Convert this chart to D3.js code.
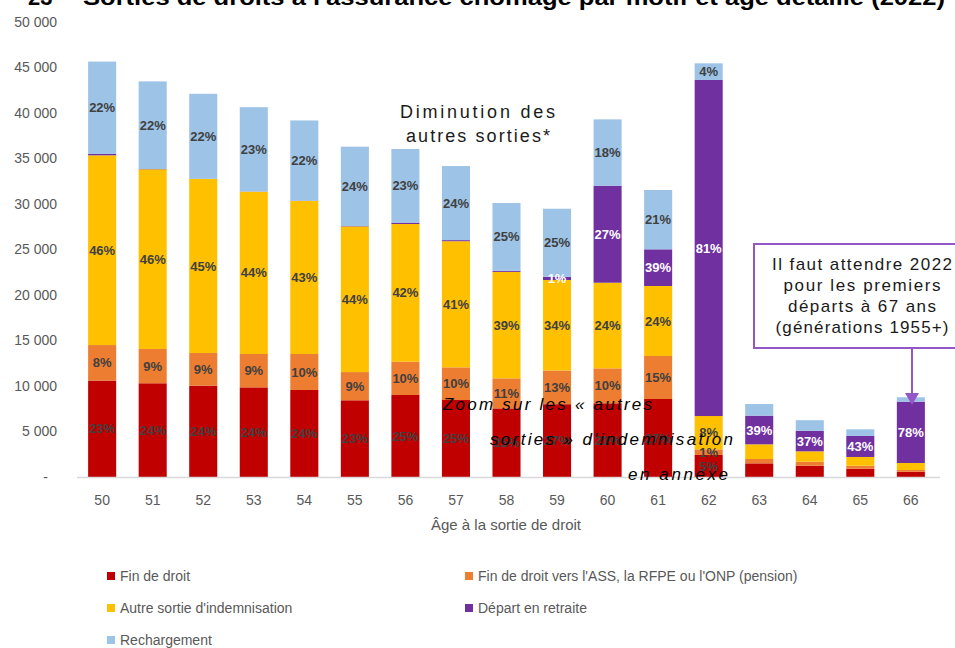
<!DOCTYPE html>
<html>
<head>
<meta charset="utf-8">
<script src="https://cdn.jsdelivr.net/npm/d3@7"></script>
<style>
  body { margin: 0; background: #fff; }
  svg { display: block; }
</style>
</head>
<body>
<div id="chart"></div>
<script>
// Sorties de droits par motif et age

// Donnees
var ages = ["50", "51", "52", "53", "54", "55", "56", "57", "58", "59", "60", "61", "62", "63", "64", "65", "66"];

var finDroit = [10600, 10300, 10040, 9850, 9560, 8430, 9010, 8460, 7540, 8000, 8100, 8570, 2420, 1500, 1240, 910, 580];
var finDroitASS = [3900, 3770, 3590, 3670, 3960, 3100, 3660, 3590, 3300, 3700, 3840, 4730, 620, 480, 440, 330, 190];
var autreSortie = [20850, 19745, 19120, 17830, 16810, 16010, 15130, 13860, 11700, 9950, 9410, 7690, 3660, 1610, 1140, 960, 770];
var retraite = [150, 30, 20, 20, 30, 40, 150, 120, 120, 350, 10660, 4030, 36930, 3150, 2250, 2310, 6740];
var rechargement = [10150, 9630, 9340, 9270, 8820, 8720, 8100, 8140, 7450, 7480, 7290, 6520, 1830, 1280, 1170, 730, 480];

// etiquettes affichees dans les barres
var lblFinDroit = ["23%", "24%", "24%", "24%", "24%", "23%", "25%", "25%", "25%", "27%", "21%", "27%", "5%", "", "", "", ""];
var lblFinDroitASS = ["8%", "9%", "9%", "9%", "10%", "9%", "10%", "10%", "11%", "13%", "10%", "15%", "1%", "", "", "", ""];
var lblAutreSortie = ["46%", "46%", "45%", "44%", "43%", "44%", "42%", "41%", "39%", "34%", "24%", "24%", "8%", "", "", "", ""];
var lblRetraite = ["", "", "", "", "", "", "", "", "", "1%", "27%", "39%", "81%", "39%", "37%", "43%", "78%"];
var lblRechargement = ["22%", "22%", "22%", "23%", "22%", "24%", "23%", "24%", "25%", "25%", "18%", "21%", "4%", "", "", "", ""];

var yTicks = [0, 5000, 10000, 15000, 20000, 25000, 30000, 35000, 40000, 45000, 50000];

var seriesNames = [
  "Fin de droit",
  "Fin de droit vers l'ASS, la RFPE ou l'ONP (pension)",
  "Autre sortie d'indemnisation",
  "Départ en retraite",
  "Rechargement"
];
var seriesKeys = ["finDroit", "finDroitASS", "autreSortie", "retraite", "rechargement"];
var seriesColors = ["#c00000", "#ed7d31", "#ffc000", "#7030a0", "#9dc3e6"];
var seriesValues = [finDroit, finDroitASS, autreSortie, retraite, rechargement];
var seriesLabels = [lblFinDroit, lblFinDroitASS, lblAutreSortie, lblRetraite, lblRechargement];

// Taille
var width = 955;
var height = 648;

var svg = d3
  .select("#chart")
  .append("svg")
  .attr("width", width)
  .attr("height", height);

// table pour le stack
var rows = ages.map(function(a, i) {
  var r = { age: a };
  seriesKeys.forEach(function(k, j) {
    r[k] = seriesValues[j][i];
  });
  return r;
});

var stack = d3.stack().keys(seriesKeys);
var layers = stack(rows);

// Echelles
var xScale = d3
  .scaleBand()
  .domain(ages)
  .range([77, 936])
  .paddingInner(0.445)
  .paddingOuter(0.22);

var yScale = d3
  .scaleLinear()
  .domain([0, 50000])
  .range([477, 22]);

// Titre (coupe en haut)
svg.append("text")
  .attr("x", 28)
  .attr("y", 5)
  .attr("font-family", "Liberation Sans, Arial, sans-serif")
  .attr("font-weight", "bold")
  .attr("font-size", 22)
  .attr("fill", "#000")
  .text("23");

svg.append("text")
  .attr("x", 83)
  .attr("y", 5)
  .attr("font-family", "Liberation Sans, Arial, sans-serif")
  .attr("font-weight", "bold")
  .attr("font-size", 22)
  .attr("fill", "#000")
  .attr("textLength", 862)
  .attr("lengthAdjust", "spacingAndGlyphs")
  .text("Sorties de droits à l'assurance chômage par motif et âge détaillé (2022)");

// Axe Y
var yAxis = d3.axisLeft(yScale)
  .tickValues(yTicks)
  .tickSize(0)
  .tickPadding(0)
  .tickFormat(function(d) {
    if (d === 0) return "-";
    return d3.format(",")(d).replace(",", " ");
  });

var gy = svg.append("g")
  .attr("class", "yAxis")
  .attr("transform", "translate(57,0)")
  .call(yAxis);
gy.select(".domain").remove();
gy.selectAll("text")
  .attr("font-family", "Liberation Sans, Arial, sans-serif")
  .attr("font-size", 14)
  .attr("fill", "#595959")
  .attr("dx", function(d) { return d === 0 ? -9 : 0; });

// Barres
var gLayers = svg.append("g")
  .selectAll("g")
  .data(layers)
  .enter()
  .append("g")
  .attr("fill", function(d, i) { return seriesColors[i]; });

gLayers.selectAll("rect")
  .data(function(d) { return d; })
  .enter()
  .append("rect")
  .attr("x", function(d) { return xScale(d.data.age); })
  .attr("width", xScale.bandwidth())
  .attr("y", function(d) { return yScale(d[1]); })
  .attr("height", function(d) { return yScale(d[0]) - yScale(d[1]); });

// Axe X
var xAxis = d3.axisBottom(xScale).tickSize(0).tickPadding(18);
var gx = svg.append("g")
  .attr("class", "xAxis")
  .attr("transform", "translate(0,477)")
  .call(xAxis);
gx.select(".domain")
  .attr("d", "M77,0.5H940")
  .attr("stroke", "#d9d9d9")
  .attr("stroke-width", 1.5);
gx.selectAll("text")
  .attr("font-family", "Liberation Sans, Arial, sans-serif")
  .attr("font-size", 14)
  .attr("fill", "#595959");

// Etiquettes des barres
layers.forEach(function(layer, j) {
  svg.append("g")
    .selectAll("text")
    .data(layer)
    .enter()
    .append("text")
    .attr("x", function(d) { return xScale(d.data.age) + xScale.bandwidth() / 2; })
    .attr("y", function(d) { return (yScale(d[0]) + yScale(d[1])) / 2; })
    .attr("dy", "0.35em")
    .attr("text-anchor", "middle")
    .attr("font-family", "Liberation Sans Narrow, Arial Narrow, sans-serif")
    .attr("font-weight", "bold")
    .attr("font-size", 13)
    .attr("fill", j === 3 ? "#ffffff" : "#404040")
    .text(function(d, i) { return seriesLabels[j][i]; });
});

// Titre axe X
svg.append("text")
  .attr("x", 506)
  .attr("y", 530)
  .attr("text-anchor", "middle")
  .attr("font-family", "Liberation Sans, Arial, sans-serif")
  .attr("font-size", 15)
  .attr("fill", "#595959")
  .text("Âge à la sortie de droit");

// Annotation "Diminution"
var annFont = "Liberation Sans, Arial, sans-serif";
svg.append("text")
  .attr("x", 400).attr("y", 118)
  .attr("font-family", annFont).attr("font-size", 18).attr("fill", "#1a1a1a")
  .attr("textLength", 155).attr("lengthAdjust", "spacing")
  .text("Diminution des");
svg.append("text")
  .attr("x", 406).attr("y", 142)
  .attr("font-family", annFont).attr("font-size", 18).attr("fill", "#1a1a1a")
  .attr("textLength", 144).attr("lengthAdjust", "spacing")
  .text("autres sorties*");

// Annotation "Zoom" en italique
var zoomLines = [
  { t: "Zoom sur les « autres", x: 443, y: 410, w: 209 },
  { t: "sorties » d'indemnisation", x: 490, y: 445, w: 243 },
  { t: "en annexe", x: 628, y: 480, w: 100 }
];
svg.append("g")
  .selectAll("text")
  .data(zoomLines)
  .enter()
  .append("text")
  .attr("x", function(d) { return d.x; })
  .attr("y", function(d) { return d.y; })
  .attr("textLength", function(d) { return d.w; })
  .attr("lengthAdjust", "spacing")
  .attr("font-family", annFont)
  .attr("font-style", "italic")
  .attr("font-size", 17)
  .attr("fill", "#000")
  .text(function(d) { return d.t; });

// Encadre 67 ans
var purpleLine = "#9457c8";
svg.append("rect")
  .attr("x", 754).attr("y", 244)
  .attr("width", 215).attr("height", 104)
  .attr("fill", "#fff")
  .attr("stroke", purpleLine)
  .attr("stroke-width", 2);

var boxLines = [
  { t: "Il faut attendre 2022", y: 270, w: 180 },
  { t: "pour les premiers", y: 291, w: 157 },
  { t: "départs à 67 ans", y: 312, w: 148 },
  { t: "(générations 1955+)", y: 333, w: 173 }
];
svg.append("g")
  .selectAll("text")
  .data(boxLines)
  .enter()
  .append("text")
  .attr("x", 862)
  .attr("y", function(d) { return d.y; })
  .attr("text-anchor", "middle")
  .attr("textLength", function(d) { return d.w; })
  .attr("lengthAdjust", "spacing")
  .attr("font-family", annFont)
  .attr("font-size", 17)
  .attr("fill", "#1a1a1a")
  .text(function(d) { return d.t; });

// fleche
svg.append("line")
  .attr("x1", 912).attr("y1", 349)
  .attr("x2", 912).attr("y2", 395)
  .attr("stroke", purpleLine)
  .attr("stroke-width", 2);
svg.append("path")
  .attr("d", "M905,393L919,393L912,405Z")
  .attr("fill", purpleLine);

// Legende
var legendPos = [
  { x: 107, y: 576 },
  { x: 465, y: 576 },
  { x: 107, y: 608 },
  { x: 465, y: 608 },
  { x: 107, y: 640 }
];
var legend = svg.append("g")
  .selectAll("g")
  .data(seriesNames)
  .enter()
  .append("g")
  .attr("transform", function(d, i) {
    return "translate(" + legendPos[i].x + "," + legendPos[i].y + ")";
  });
legend.append("rect")
  .attr("x", 0).attr("y", -4)
  .attr("width", 8).attr("height", 8)
  .attr("fill", function(d, i) { return seriesColors[i]; });
legend.append("text")
  .attr("x", 13)
  .attr("y", 0)
  .attr("dy", "0.35em")
  .attr("font-family", "Liberation Sans, Arial, sans-serif")
  .attr("font-size", 14)
  .attr("fill", "#595959")
  .text(function(d) { return d; });
</script>
</body>
</html>
